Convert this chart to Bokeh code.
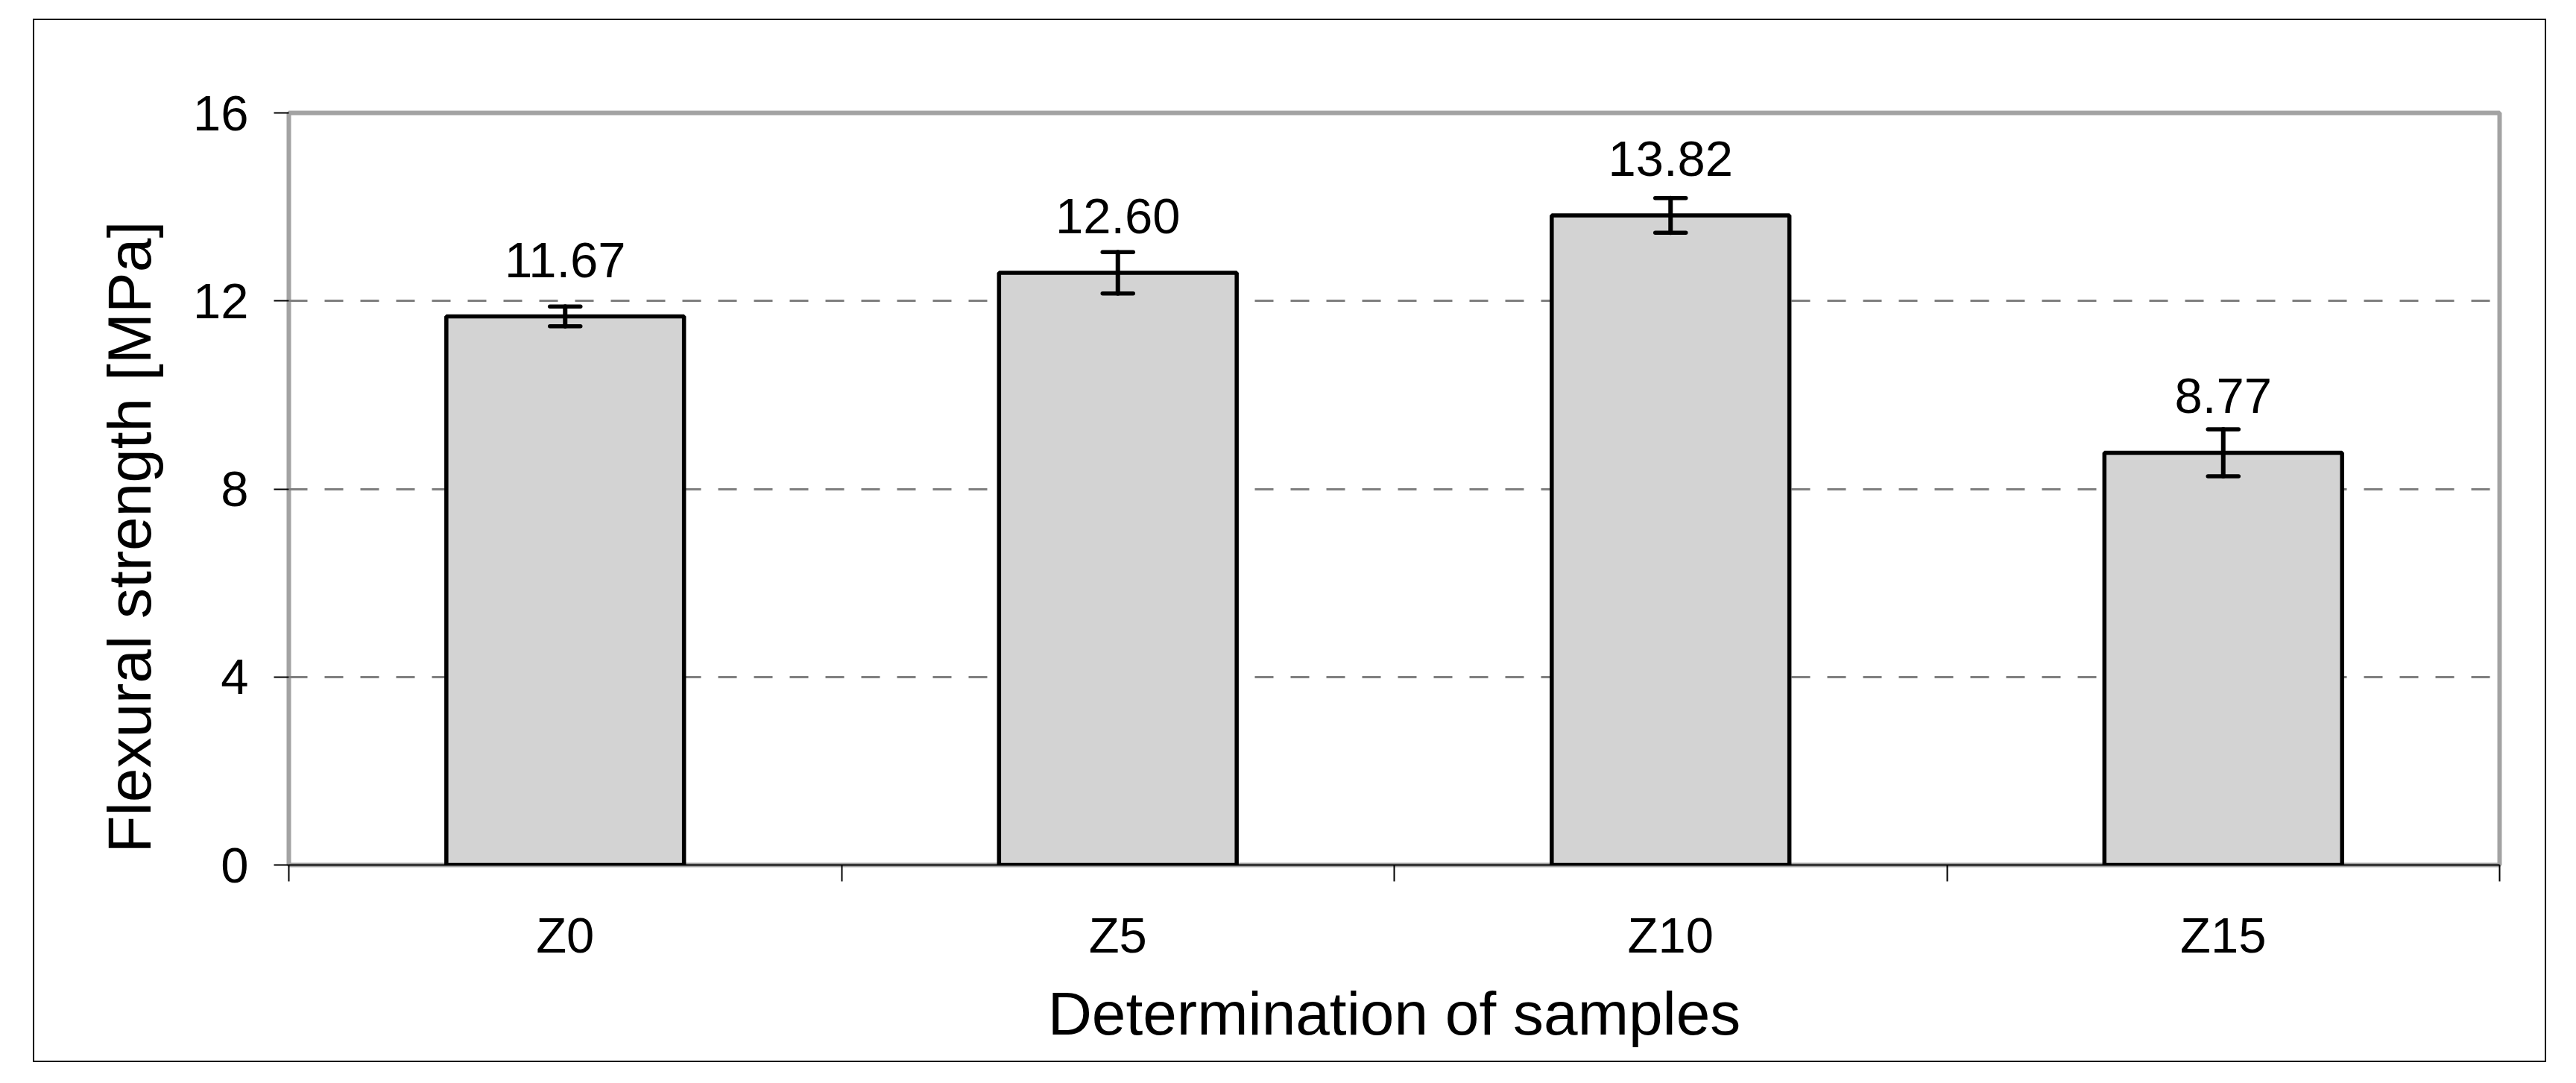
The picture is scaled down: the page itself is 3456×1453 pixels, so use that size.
from bokeh.plotting import figure
from bokeh.models import (ColumnDataSource, FixedTicker, Whisker, TeeHead, Title,
                          Range1d, InlineStyleSheet)
from bokeh.core.properties import value
from bokeh.embed import file_html
from bokeh.resources import INLINE

# ---- data ----
categories = ["Z0", "Z5", "Z10", "Z15"]
strength = [11.67, 12.60, 13.82, 8.77]
std_dev = [0.21, 0.44, 0.37, 0.50]
y_ticks = [0, 4, 8, 12, 16]
x_title = "Determination of samples"
y_title = "Flexural strength [MPa]"

FONT = "Liberation Sans"

xpos = [i + 0.5 for i in range(len(categories))]
src = ColumnDataSource(dict(
    x=xpos,
    top=strength,
    upper=[v + e for v, e in zip(strength, std_dev)],
    lower=[v - e for v, e in zip(strength, std_dev)],
    lab=[f"{v:.2f}" for v in strength],
))

border_css = InlineStyleSheet(css="""
:host { position: relative; }
:host::after {
  content: "";
  position: absolute;
  left: 44px; top: 25px; width: 3372px; height: 1400px;
  border: 2px solid black; box-sizing: border-box;
  pointer-events: none;
}
""")

p = figure(
    x_range=Range1d(0, len(categories)), y_range=Range1d(y_ticks[0], y_ticks[-1]),
    frame_width=2966, frame_height=1009,
    min_border_left=387, min_border_right=87, min_border_top=151, min_border_bottom=280,
    output_backend="svg", toolbar_location=None,
    background_fill_color="white", border_fill_color="white",
    stylesheets=[border_css],
)

# frame (plot area border)
p.outline_line_color = "#A3A3A3"
p.outline_line_width = 6

# grid
p.xgrid.visible = False
p.ygrid.ticker = FixedTicker(ticks=y_ticks)
p.ygrid.grid_line_color = "#7F7F7F"
p.ygrid.grid_line_width = 3
p.ygrid.grid_line_dash = "25 23"

# bars
p.vbar(x="x", top="top", bottom=0, width=0.43, source=src,
       fill_color="#D3D3D3", line_color="black", line_width=5.5)

# error bars
w = Whisker(base="x", upper="upper", lower="lower", source=src,
            line_color="black", line_width=6, line_cap="round", level="overlay",
            upper_head=TeeHead(size=41, line_width=5.5, line_color="black", line_cap="round"),
            lower_head=TeeHead(size=41, line_width=5.5, line_color="black", line_cap="round"))
p.add_layout(w)

# value labels
p.text(x="x", y="top", text="lab", source=src, y_offset=-76,
       text_align="center", text_baseline="alphabetic",
       text_font=value(FONT), text_font_size="67px", text_color="black")

# x axis
xa = p.xaxis[0]
xa.ticker = FixedTicker(ticks=xpos, minor_ticks=list(range(len(categories) + 1)))
xa.major_label_overrides = {xv: c for xv, c in zip(xpos, categories)}
xa.major_tick_in = 0
xa.major_tick_out = 0
xa.minor_tick_in = 0
xa.minor_tick_out = 22
xa.minor_tick_line_color = "black"
xa.minor_tick_line_width = 2
xa.axis_line_color = "black"
xa.axis_line_width = 2
xa.major_label_text_font = FONT
xa.major_label_text_font_size = "67px"
xa.major_label_text_color = "black"
xa.major_label_standoff = 34
xa.axis_label = x_title
xa.axis_label_text_font = FONT
xa.axis_label_text_font_size = "82px"
xa.axis_label_text_font_style = "normal"
xa.axis_label_text_color = "black"
xa.axis_label_standoff = 19

# y axis
ya = p.yaxis[0]
ya.ticker = FixedTicker(ticks=y_ticks, minor_ticks=[])
ya.axis_line_color = None
ya.major_tick_in = 0
ya.major_tick_out = 20
ya.major_tick_line_color = "black"
ya.major_tick_line_width = 2
ya.minor_tick_line_color = None
ya.major_label_text_font = FONT
ya.major_label_text_font_size = "67px"
ya.major_label_text_color = "black"
ya.major_label_standoff = 34

# y title, placed like the original (starting near the frame bottom)
p.add_layout(Title(text=y_title, align="left", offset=16, standoff=73,
                   text_font=FONT, text_font_size="82px", text_font_style="normal",
                   text_color="black"), "left")

open("out.html", "w").write(file_html(p, INLINE))
